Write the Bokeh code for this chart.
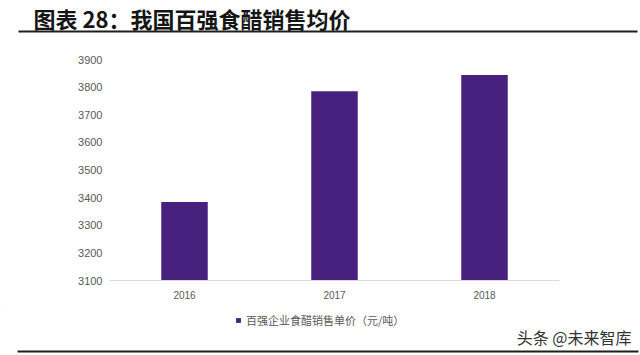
from bokeh.plotting import figure
from bokeh.layouts import column
from bokeh.models import (Range1d, FactorRange, SingleIntervalTicker, Label,
                          BoxAnnotation, Legend, LegendItem, ColumnDataSource)
from bokeh.embed import file_html
from bokeh.resources import INLINE

# ---- data ----
years = ["2016", "2017", "2018"]
prices = [3384, 3785, 3844]
series_name = "百强企业食醋销售单价（元/吨）"
title_text = "图表 28：我国百强食醋销售均价"
watermark = "头条 @未来智库"

BAR = "#48217E"
GRAY = "#595959"
CJK = "Noto Sans CJK SC"


def blank(h, y0, y1):
    f = figure(width=640, height=h, output_backend="svg", toolbar_location=None,
               x_range=Range1d(0, 640), y_range=Range1d(y1, y0),
               x_axis_type=None, y_axis_type=None, frame_align=False,
               min_border=0, min_border_left=0, min_border_right=0,
               min_border_top=0, min_border_bottom=0)
    f.outline_line_color = None
    f.background_fill_color = "white"
    f.border_fill_color = "white"
    return f


# ---- title strip (page y 0..40) ----
top = blank(40, 0, 40)
top.add_layout(Label(x=33, y=17, text=title_text, text_font=CJK,
                     text_font_style="bold", text_font_size="22px",
                     text_color="#151515", text_baseline="middle", text_align="left"))
top.add_layout(BoxAnnotation(left=18, right=637, bottom=32, top=30,
                             fill_color="#1e1e1e", fill_alpha=1, line_color=None))

# ---- main chart (page y 40..310) ----
src = ColumnDataSource(dict(year=years, price=prices))
p = figure(width=640, height=270, output_backend="svg", toolbar_location=None,
           x_range=FactorRange(*years, range_padding=0),
           y_range=Range1d(3100, 3900), frame_align=False,
           min_border_left=109, min_border_right=81,
           min_border_top=19, min_border_bottom=30)
p.outline_line_color = None
p.xgrid.grid_line_color = None
p.ygrid.grid_line_color = None
p.background_fill_color = "white"
p.border_fill_color = "white"

p.vbar(x="year", top="price", bottom=3100, width=0.31, source=src,
       fill_color=BAR, line_color=None)

p.yaxis.ticker = SingleIntervalTicker(interval=100)
p.yaxis.axis_line_color = None
p.yaxis.major_tick_line_color = None
p.yaxis.minor_tick_line_color = None
p.yaxis.major_tick_out = 0
p.yaxis.minor_tick_out = 0
p.yaxis.major_label_text_font = "Liberation Sans"
p.yaxis.major_label_text_font_size = "11px"
p.yaxis.major_label_text_color = GRAY
p.yaxis.major_label_standoff = 7

p.xaxis.axis_line_color = "#d9d9d9"
p.xaxis.axis_line_width = 1
p.xaxis.major_tick_line_color = None
p.xaxis.minor_tick_line_color = None
p.xaxis.major_tick_out = 0
p.xaxis.minor_tick_out = 0
p.xaxis.major_label_text_font = "Liberation Sans"
p.xaxis.major_label_text_font_size = "10px"
p.xaxis.major_label_text_color = GRAY
p.xaxis.major_label_standoff = 10

# ---- bottom strip (page y 310..355): legend, watermark, rule ----
bot = blank(45, 310, 355)
# legend proxy (placed off-canvas; only its swatch is shown in the legend)
key = bot.vbar(x=[-100], top=[300], bottom=[290], width=1,
               fill_color=BAR, line_color=None)
legend = Legend(items=[LegendItem(label=series_name, renderers=[key])],
                location=(235, 27), orientation="horizontal",
                glyph_width=6, glyph_height=6, label_standoff=5,
                label_height=6, padding=0, margin=0, spacing=0,
                border_line_color=None, background_fill_alpha=0,
                label_text_font=CJK, label_text_font_size="11px",
                label_text_color=GRAY)
bot.add_layout(legend, "center")
bot.add_layout(Label(x=631, y=336, text=watermark, text_font=CJK,
                     text_font_size="16px", text_color="#333333",
                     text_baseline="middle", text_align="right"))
bot.add_layout(BoxAnnotation(left=17, right=638, bottom=352, top=350,
                             fill_color="#1e1e1e", fill_alpha=1, line_color=None))

layout = column(top, p, bot, spacing=0)
open("out.html", "w").write(file_html(layout, INLINE))
